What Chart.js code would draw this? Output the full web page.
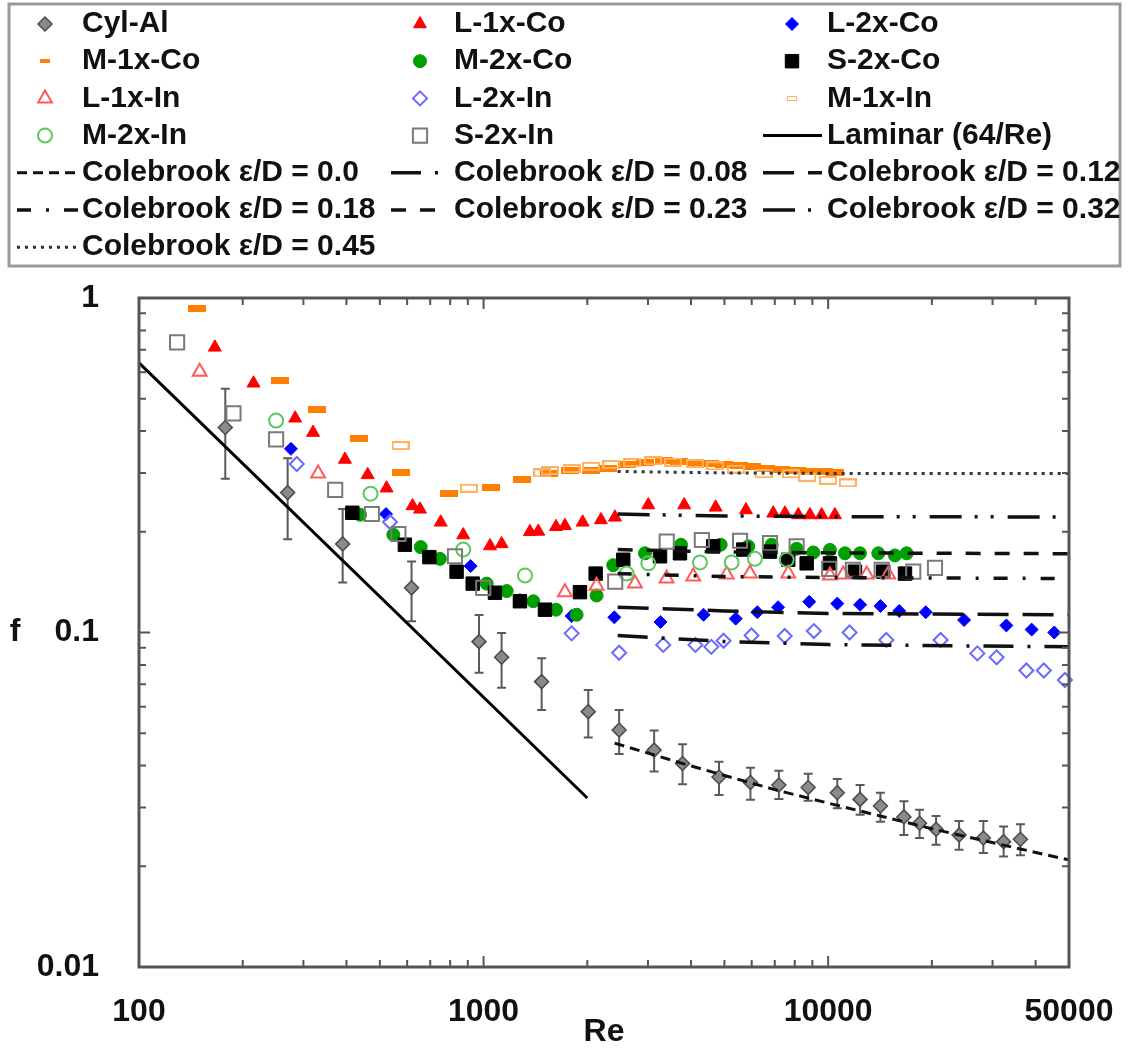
<!DOCTYPE html>
<html>
<head>
<meta charset="utf-8">
<title>Friction factor vs Re</title>
<script src="https://cdn.jsdelivr.net/npm/chart.js@4.4.1/dist/chart.umd.min.js"></script>
<style>
  html, body { margin: 0; padding: 0; background: #fff; }
  canvas { display: block; }
</style>
</head>
<body>
<canvas id="myChart" width="1129" height="1052"></canvas>
<script>
// ---- data ----
const xTickVals = [100, 1000, 10000, 50000];
const yTickVals = [0.01, 0.1, 1];

const cylRe = [178, 270, 390, 618, 970, 1128, 1474, 2013, 2474, 3126, 3779, 4822, 5950, 7194, 8750, 10630, 12380, 14180, 16590, 18420, 20570, 23990, 28210, 32300, 36140];
const cylF = [0.410, 0.262, 0.184, 0.136, 0.0939, 0.0843, 0.0713, 0.0580, 0.0511, 0.0445, 0.0406, 0.0370, 0.0356, 0.0350, 0.0344, 0.0332, 0.0317, 0.0303, 0.0281, 0.0269, 0.0258, 0.0248, 0.0243, 0.0237, 0.0241];
const cylHi = [0.535, 0.332, 0.234, 0.163, 0.1128, 0.0997, 0.0837, 0.0673, 0.0587, 0.0509, 0.0463, 0.0411, 0.0394, 0.0386, 0.0378, 0.0365, 0.0350, 0.0332, 0.0313, 0.0295, 0.0283, 0.0273, 0.0273, 0.0263, 0.0267];
const cylLo = [0.288, 0.190, 0.141, 0.108, 0.0758, 0.0684, 0.0587, 0.0485, 0.0433, 0.0384, 0.0352, 0.0327, 0.0316, 0.0318, 0.0314, 0.0298, 0.0285, 0.0272, 0.0248, 0.0243, 0.0232, 0.0224, 0.0219, 0.0214, 0.0216];

const l1CoRe = [166, 215, 284, 320, 396, 461, 523, 622, 654, 751, 873, 1044, 1128, 1363, 1441, 1622, 1722, 1939, 2191, 2406, 3006, 3822, 4716, 5773, 6929, 7493, 8191, 8856, 9575, 10460];
const l1CoF = [0.712, 0.556, 0.437, 0.396, 0.329, 0.296, 0.270, 0.239, 0.2335, 0.2135, 0.1956, 0.1814, 0.184, 0.200, 0.2005, 0.207, 0.2085, 0.2135, 0.217, 0.221, 0.2405, 0.2405, 0.2367, 0.2324, 0.2272, 0.2272, 0.2246, 0.2246, 0.2246, 0.2246];

const l2CoRe = [276, 521, 917, 1275, 1801, 2396, 3261, 4350, 5393, 6230, 7157, 8815, 10630, 12380, 14180, 16080, 19200, 24800, 32900, 38950, 45300];
const l2CoF = [0.354, 0.226, 0.158, 0.125, 0.112, 0.111, 0.1075, 0.113, 0.110, 0.115, 0.119, 0.1236, 0.122, 0.121, 0.120, 0.116, 0.115, 0.109, 0.105, 0.102, 0.100];

const m1CoRe = [147, 257, 329, 436, 575, 795, 1048, 1290, 1551, 1781, 2050, 2300, 2600, 2950, 3330, 3700, 4100, 4550, 5000, 5500, 6000, 6600, 7300, 8100, 8900, 9700, 10500];
const m1CoF = [0.932, 0.565, 0.463, 0.379, 0.301, 0.261, 0.272, 0.286, 0.299, 0.305, 0.306, 0.310, 0.318, 0.322, 0.326, 0.325, 0.322, 0.320, 0.318, 0.315, 0.313, 0.310, 0.308, 0.305, 0.303, 0.302, 0.301];

const m2CoRe = [438, 547, 657, 747, 1021, 1167, 1394, 1622, 1862, 2128, 2379, 2940, 3740, 4876, 5862, 6855, 8100, 9054, 10120, 11190, 12370, 13980, 15620, 16900];
const m2CoF = [0.225, 0.196, 0.180, 0.166, 0.140, 0.133, 0.124, 0.117, 0.113, 0.129, 0.159, 0.1725, 0.183, 0.183, 0.181, 0.183, 0.178, 0.1735, 0.1766, 0.1725, 0.1725, 0.1725, 0.170, 0.1725];

const s2CoRe = [416, 591, 696, 835, 930, 1079, 1275, 1507, 1904, 2115, 2543, 3251, 3715, 4640, 5672, 6777, 7660, 8663, 10120, 11960, 14450, 16710];
const s2CoF = [0.228, 0.183, 0.168, 0.152, 0.140, 0.1315, 0.124, 0.117, 0.132, 0.150, 0.165, 0.169, 0.1725, 0.181, 0.177, 0.1745, 0.165, 0.161, 0.161, 0.152, 0.152, 0.150];

const l1InRe = [150, 331, 1722, 2128, 2750, 3398, 4060, 5076, 5930, 7660, 10120, 11060, 12940, 14940];
const l1InF = [0.602, 0.299, 0.132, 0.138, 0.140, 0.145, 0.147, 0.149, 0.150, 0.150, 0.148, 0.149, 0.149, 0.149];

const l2InRe = [287, 535, 1801, 2474, 3322, 4120, 4580, 4972, 5993, 7480, 9090, 11540, 14750, 21200, 27100, 30830, 37600, 42260, 48650];
const l2InF = [0.319, 0.214, 0.0994, 0.087, 0.0918, 0.0918, 0.0906, 0.0945, 0.098, 0.0976, 0.101, 0.100, 0.095, 0.095, 0.0866, 0.0843, 0.077, 0.077, 0.0721];

const m1InRe = [574, 907, 1480, 1560, 1800, 2050, 2350, 2700, 3100, 3550, 4100, 4700, 5400, 6500, 7800, 8700, 10000, 11400];
const m1InF = [0.362, 0.270, 0.300, 0.305, 0.309, 0.314, 0.318, 0.322, 0.326, 0.323, 0.320, 0.315, 0.308, 0.298, 0.298, 0.291, 0.285, 0.280];

const m2InRe = [250, 470, 873, 1319, 2600, 3006, 4246, 5248, 6130, 7580];
const m2InF = [0.430, 0.260, 0.177, 0.148, 0.150, 0.161, 0.162, 0.162, 0.166, 0.165];

const s2InRe = [129, 188, 250, 371, 474, 566, 826, 998, 2410, 3400, 4300, 5550, 6780, 8100, 10070, 11800, 14300, 17660, 20420];
const s2InF = [0.737, 0.452, 0.378, 0.267, 0.226, 0.197, 0.169, 0.136, 0.142, 0.187, 0.189, 0.188, 0.185, 0.181, 0.155, 0.154, 0.154, 0.152, 0.156];

const lamRe = [100, 2000];
const lamF = [0.64, 0.032];

const cbSmoothRe = [2400, 4000, 7000, 10000, 20000, 35000, 50000];
const cb000 = [0.0467, 0.0399, 0.0339, 0.0309, 0.0259, 0.0227, 0.0209];

const cbRoughRe = [2450, 5000, 10000, 50000];
const cb008 = [0.098, 0.094, 0.092, 0.0906];
const cb012 = [0.119, 0.116, 0.114, 0.113];
const cb018 = [0.150, 0.147, 0.146, 0.145];
const cb023 = [0.177, 0.174, 0.173, 0.172];
const cb032 = [0.226, 0.223, 0.222, 0.2215];
const cb045 = [0.303, 0.300, 0.299, 0.2987];

// ---- styling helpers ----
const FONT = "'Liberation Sans', Arial, Helvetica, sans-serif";
const CLEAR = 'rgba(0,0,0,0)';

function barMarker(w, h, fill, stroke, lw) {
    const c = document.createElement('canvas');
    c.width = w; c.height = h;
    const g = c.getContext('2d');
    if (fill) { g.fillStyle = fill; g.fillRect(0, 0, w, h); }
    if (stroke) { g.strokeStyle = stroke; g.lineWidth = lw; g.strokeRect(lw / 2, lw / 2, w - lw, h - lw); }
    return c;
}

const toPoints = (xs, ys) => xs.map((x, i) => ({ x: x, y: ys[i] }));

function markers(label, xs, ys, style, fill, stroke, radius, bw) {
    return {
        label: label,
        data: toPoints(xs, ys),
        showLine: false,
        clip: false,
        pointStyle: style,
        pointRadius: radius,
        pointHoverRadius: radius,
        pointBackgroundColor: fill,
        pointBorderColor: stroke,
        pointBorderWidth: bw
    };
}

function curve(label, xs, ys, dash, width, color) {
    return {
        label: label,
        data: toPoints(xs, ys),
        showLine: true,
        fill: false,
        tension: 0,
        pointRadius: 0,
        borderColor: color,
        borderWidth: width,
        borderDash: dash,
        order: 0
    };
}

const datasets = [
    markers('Cyl-Al', cylRe, cylF, 'rectRot', '#8a8a8a', '#4a4a4a', 7, 1.5),
    markers('L-1x-Co', l1CoRe, l1CoF, 'triangle', '#ff0000', '#ff0000', 7.5, 1),
    markers('L-2x-Co', l2CoRe, l2CoF, 'rectRot', '#0000ff', '#0000ff', 6.5, 1),
    markers('M-1x-Co', m1CoRe, m1CoF, barMarker(18, 7, '#ff8000', null, 0), '#ff8000', '#ff8000', 8, 0),
    markers('M-2x-Co', m2CoRe, m2CoF, 'circle', '#00a000', '#00a000', 6.5, 1),
    markers('S-2x-Co', s2CoRe, s2CoF, 'rect', '#000000', '#000000', 9.5, 1),
    markers('L-1x-In', l1InRe, l1InF, 'triangle', CLEAR, '#ff5a5a', 8, 2),
    markers('L-2x-In', l2InRe, l2InF, 'rectRot', CLEAR, '#6a6aff', 7, 2),
    markers('M-1x-In', m1InRe, m1InF, barMarker(18, 9, null, '#ffb060', 2), CLEAR, '#ffb060', 8, 0),
    markers('M-2x-In', m2InRe, m2InF, 'circle', CLEAR, '#5cc85c', 7, 2),
    markers('S-2x-In', s2InRe, s2InF, 'rect', CLEAR, '#7a7a7a', 10, 2),
    curve('Laminar (64/Re)', lamRe, lamF, [], 3, '#000'),
    curve('Colebrook \u03b5/D = 0.0', cbSmoothRe, cb000, [10, 6], 3, '#111'),
    curve('Colebrook \u03b5/D = 0.08', cbRoughRe, cb008, [30, 14, 3, 14], 3.5, '#111'),
    curve('Colebrook \u03b5/D = 0.12', cbRoughRe, cb012, [31, 14], 3.5, '#111'),
    curve('Colebrook \u03b5/D = 0.18', cbRoughRe, cb018, [14, 15, 3, 15], 3.5, '#111'),
    curve('Colebrook \u03b5/D = 0.23', cbRoughRe, cb023, [15, 14], 3.5, '#111'),
    curve('Colebrook \u03b5/D = 0.32', cbRoughRe, cb032, [32, 13, 3, 13, 3, 14], 3.5, '#111'),
    curve('Colebrook \u03b5/D = 0.45', cbRoughRe, cb045, [3, 5], 3, '#333')
];
// later marker series sit on top of earlier ones, curves above all markers
datasets.forEach((d, i) => { if (!d.showLine) d.order = 100 - i; });

// ---- legend box (3 columns) ----
const legendBox = { left: 9, top: 4, right: 1120, bottom: 266 };
const legendCols = [
    { mark: 45, lineFrom: 17, lineTo: 79, text: 82 },
    { mark: 420, lineFrom: 391, lineTo: 443, text: 454 },
    { mark: 792, lineFrom: 763, lineTo: 822, text: 827 }
];
const legendRowY = 24, legendRowStep = 37.2;
const legendBarScale = 0.55;

const boxLegend = {
    id: 'boxLegend',
    afterDraw(chart) {
        const ctx = chart.ctx;
        ctx.save();
        ctx.strokeStyle = '#9a9a9a';
        ctx.lineWidth = 3;
        ctx.strokeRect(legendBox.left, legendBox.top, legendBox.right - legendBox.left, legendBox.bottom - legendBox.top);

        ctx.font = 'bold 30px ' + FONT;
        ctx.textBaseline = 'middle';
        ctx.textAlign = 'left';
        chart.data.datasets.forEach((ds, i) => {
            const col = legendCols[i % 3];
            const y = legendRowY + Math.floor(i / 3) * legendRowStep;
            ctx.save();
            if (ds.showLine) {
                ctx.strokeStyle = ds.borderColor;
                ctx.lineWidth = ds.borderWidth;
                ctx.setLineDash(ds.borderDash);
                ctx.beginPath();
                ctx.moveTo(col.lineFrom, y);
                ctx.lineTo(col.lineTo, y);
                ctx.stroke();
            } else if (ds.pointStyle instanceof HTMLCanvasElement) {
                // bar-shaped markers are drawn smaller in the key
                const img = ds.pointStyle;
                const w = img.width * legendBarScale, h = img.height * legendBarScale;
                ctx.drawImage(img, col.mark - w / 2, y - h / 2, w, h);
            } else {
                ctx.fillStyle = ds.pointBackgroundColor;
                ctx.strokeStyle = ds.pointBorderColor;
                ctx.lineWidth = ds.pointBorderWidth;
                Chart.helpers.drawPoint(ctx, {
                    pointStyle: ds.pointStyle,
                    radius: ds.pointRadius,
                    rotation: 0,
                    borderWidth: ds.pointBorderWidth
                }, col.mark, y);
            }
            ctx.restore();
            ctx.fillStyle = '#111';
            ctx.fillText(ds.label, col.text, y);
        });
        ctx.restore();
    }
};

// ---- error bars for Cyl-Al ----
const errorBars = {
    id: 'errorBars',
    beforeDatasetsDraw(chart) {
        const { ctx, scales: { x, y } } = chart;
        ctx.save();
        ctx.strokeStyle = '#5a5a5a';
        ctx.lineWidth = 2;
        cylRe.forEach((re, i) => {
            const px = x.getPixelForValue(re);
            const top = y.getPixelForValue(cylHi[i]);
            const bot = y.getPixelForValue(cylLo[i]);
            ctx.beginPath();
            ctx.moveTo(px, top); ctx.lineTo(px, bot);
            ctx.moveTo(px - 4.5, top); ctx.lineTo(px + 4.5, top);
            ctx.moveTo(px - 4.5, bot); ctx.lineTo(px + 4.5, bot);
            ctx.stroke();
        });
        ctx.restore();
    }
};

// ---- plot frame with inward ticks on all four sides, plus "f" label ----
function logSubTicks(lo, hi) {
    const out = [];
    for (let d = lo; d < hi; d *= 10) {
        for (let k = 1; k <= 9; k++) {
            const v = d * k;
            if (v > lo && v < hi) out.push({ v: v, major: k === 1 });
        }
    }
    return out;
}

const frameTicks = {
    id: 'frameTicks',
    afterDraw(chart) {
        const { ctx, chartArea: a, scales: { x, y } } = chart;
        ctx.save();
        ctx.strokeStyle = '#555';
        ctx.lineWidth = 2;
        ctx.beginPath();
        logSubTicks(100, 50000).forEach(t => {
            const px = x.getPixelForValue(t.v);
            const len = t.major ? 11 : 7;
            ctx.moveTo(px, a.bottom); ctx.lineTo(px, a.bottom - len);
            ctx.moveTo(px, a.top); ctx.lineTo(px, a.top + len);
        });
        logSubTicks(0.01, 1).forEach(t => {
            const py = y.getPixelForValue(t.v);
            const len = t.major ? 11 : 7;
            ctx.moveTo(a.left, py); ctx.lineTo(a.left + len, py);
            ctx.moveTo(a.right, py); ctx.lineTo(a.right - len, py);
        });
        ctx.stroke();

        ctx.lineWidth = 3;
        ctx.strokeRect(a.left, a.top, a.right - a.left, a.bottom - a.top);

        ctx.fillStyle = '#111';
        ctx.font = 'bold 32px ' + FONT;
        ctx.textAlign = 'center';
        ctx.textBaseline = 'middle';
        ctx.fillText('f', 15, y.getPixelForValue(0.1));
        ctx.restore();
    }
};

const ctx = document.getElementById('myChart').getContext('2d');
const myChart = new Chart(ctx, {
    type: 'scatter',
    data: { datasets: datasets },
    options: {
        responsive: false,
        devicePixelRatio: 1,
        animation: false,
        events: [],
        layout: { padding: { top: 298, right: 60, bottom: 0, left: 0 } },
        scales: {
            x: {
                type: 'logarithmic',
                min: 100,
                max: 50000,
                grid: { display: false },
                border: { display: false },
                afterBuildTicks: (axis) => { axis.ticks = xTickVals.map(v => ({ value: v })); },
                afterFit: (axis) => {
                    axis.height = 85;
                    axis.paddingLeft = 0;
                    axis.paddingRight = 0;
                },
                ticks: {
                    autoSkip: false,
                    maxRotation: 0,
                    padding: 18,
                    color: '#111',
                    font: { family: FONT, size: 32, weight: 'bold' },
                    callback: (v) => String(v)
                },
                title: {
                    display: true,
                    text: 'Re',
                    color: '#111',
                    padding: { top: 0, bottom: 1 },
                    font: { family: FONT, size: 32, weight: 'bold' }
                }
            },
            y: {
                type: 'logarithmic',
                min: 0.01,
                max: 1,
                grid: { display: false },
                border: { display: false },
                afterBuildTicks: (axis) => { axis.ticks = yTickVals.map(v => ({ value: v })); },
                afterFit: (axis) => {
                    axis.width = 139;
                    axis.paddingTop = 0;
                    axis.paddingBottom = 0;
                },
                ticks: {
                    autoSkip: false,
                    padding: 32,
                    color: '#111',
                    font: { family: FONT, size: 32, weight: 'bold' },
                    callback: (v) => String(v)
                }
            }
        },
        plugins: {
            legend: { display: false },
            tooltip: { enabled: false }
        }
    },
    plugins: [errorBars, frameTicks, boxLegend]
});
</script>
</body>
</html>
